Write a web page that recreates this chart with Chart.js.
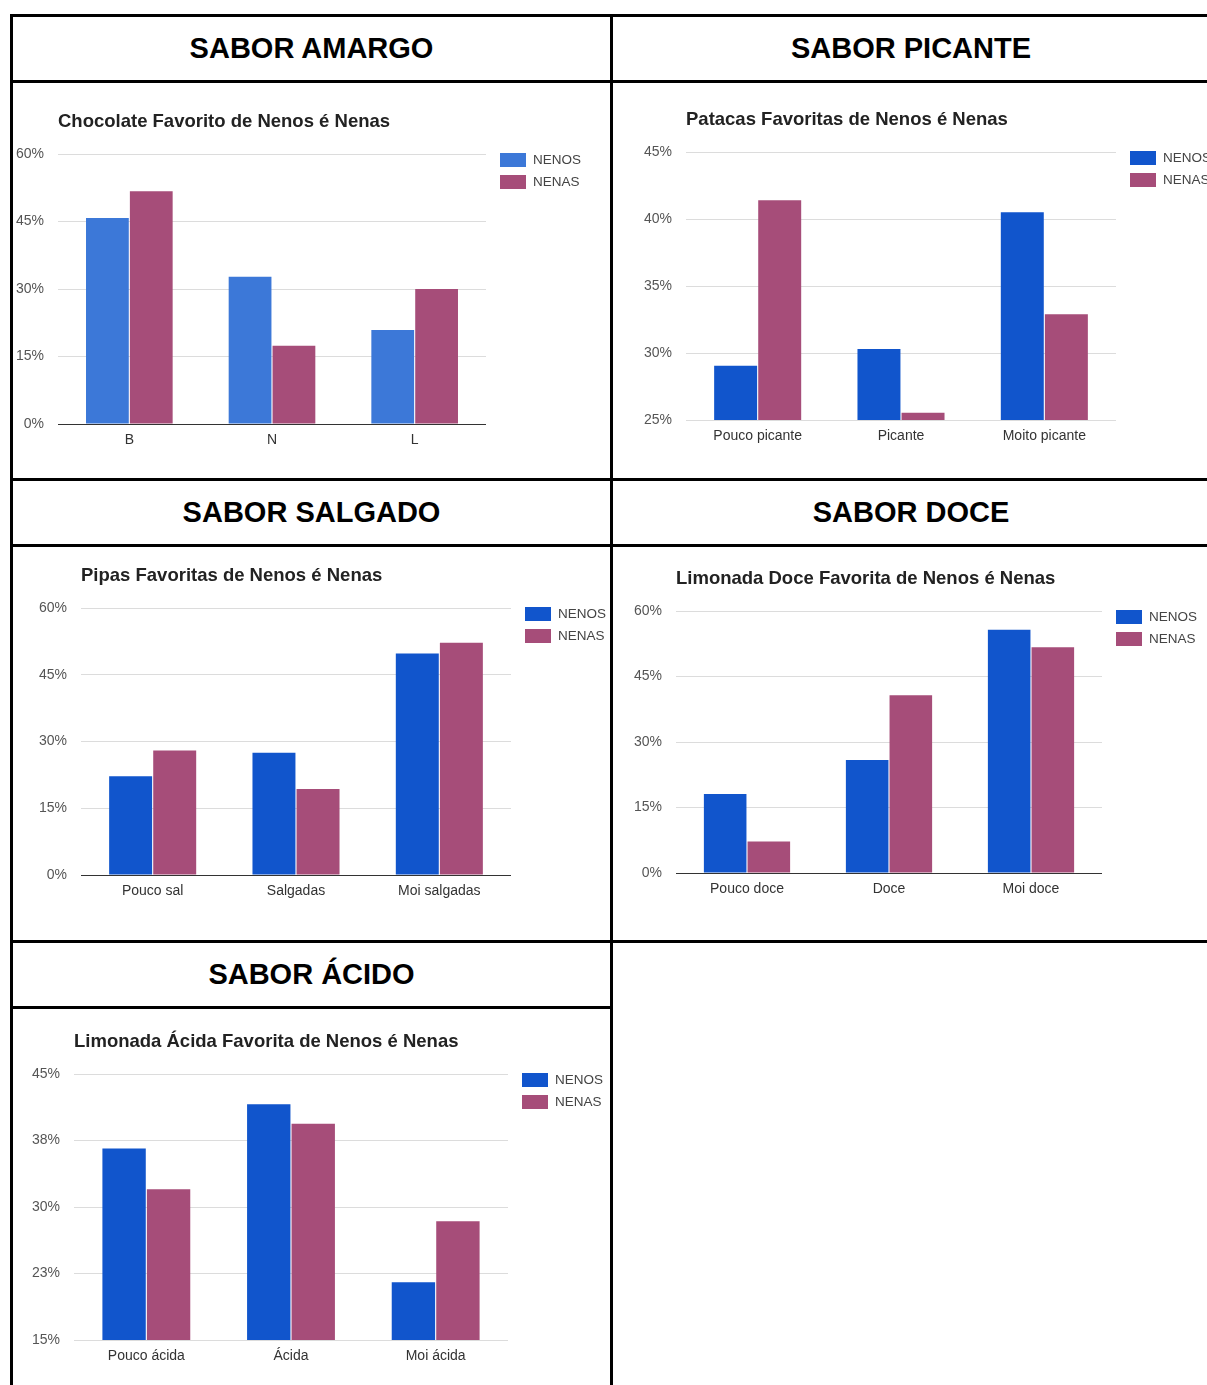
<!DOCTYPE html>
<html>
<head>
<meta charset="utf-8">
<script src="https://cdn.jsdelivr.net/npm/chart.js@4.4.0/dist/chart.umd.min.js"></script>
<style>
body{margin:0;background:#fff;width:1207px;height:1385px;overflow:hidden;position:relative;font-family:"Liberation Sans",Arial,sans-serif}
.ln{position:absolute;background:#000}
.hd{position:absolute;height:63px;line-height:63px;text-align:center;font-weight:bold;font-size:29px;color:#000}
canvas{position:absolute}
</style>
</head>
<body>
<!-- table lines -->
<div class="ln" style="left:10px;top:14px;width:1200px;height:3px"></div>
<div class="ln" style="left:10px;top:80px;width:1200px;height:3px"></div>
<div class="ln" style="left:10px;top:478px;width:1200px;height:3px"></div>
<div class="ln" style="left:10px;top:544px;width:1200px;height:3px"></div>
<div class="ln" style="left:10px;top:940px;width:1200px;height:3px"></div>
<div class="ln" style="left:10px;top:1006px;width:603px;height:3px"></div>
<div class="ln" style="left:10px;top:14px;width:3px;height:1371px"></div>
<div class="ln" style="left:610px;top:14px;width:3px;height:1371px"></div>

<div class="hd" style="left:13px;top:17px;width:597px">SABOR AMARGO</div>
<div class="hd" style="left:613px;top:17px;width:596px">SABOR PICANTE</div>
<div class="hd" style="left:13px;top:481px;width:597px">SABOR SALGADO</div>
<div class="hd" style="left:613px;top:481px;width:596px">SABOR DOCE</div>
<div class="hd" style="left:13px;top:943px;width:597px">SABOR ÁCIDO</div>

<canvas id="c1"></canvas>
<canvas id="c2"></canvas>
<canvas id="c3"></canvas>
<canvas id="c4"></canvas>
<canvas id="c5"></canvas>

<script>
// data
var seriesNames = ['NENOS', 'NENAS'];

var amargoCats = ['B', 'N', 'L'];
var amargoNenos = [45.8, 32.7, 20.9];
var amargoNenas = [51.7, 17.4, 30.0];
var amargoTicks = [0, 15, 30, 45, 60];

var picanteCats = ['Pouco picante', 'Picante', 'Moito picante'];
var picanteNenos = [29.05, 30.3, 40.5];
var picanteNenas = [41.4, 25.55, 32.9];
var picanteTicks = [25, 30, 35, 40, 45];

var salgadoCats = ['Pouco sal', 'Salgadas', 'Moi salgadas'];
var salgadoNenos = [22.2, 27.5, 49.8];
var salgadoNenas = [28.0, 19.3, 52.2];
var salgadoTicks = [0, 15, 30, 45, 60];

var doceCats = ['Pouco doce', 'Doce', 'Moi doce'];
var doceNenos = [18.1, 25.9, 55.7];
var doceNenas = [7.2, 40.7, 51.7];
var doceTicks = [0, 15, 30, 45, 60];

var acidoCats = ['Pouco ácida', 'Ácida', 'Moi ácida'];
var acidoNenos = [36.6, 41.6, 21.5];
var acidoNenas = [32.0, 39.4, 28.4];
var acidoTicks = [15, 22.5, 30, 37.5, 45];

var FONT = '"Liberation Sans", Arial, sans-serif';
var YW = 45, XH = 30;

// title + legend drawn next to the plot area
var deco = {
	id: 'deco',
	afterDraw: function(chart) {
		var ctx = chart.ctx, a = chart.chartArea;
		ctx.save();
		ctx.fillStyle = '#222';
		ctx.font = 'bold 18.5px ' + FONT;
		ctx.textAlign = 'left';
		ctx.textBaseline = 'middle';
		ctx.fillText(chart.options.plugins.deco.title, a.left, a.top - 32);
		ctx.font = '13.5px ' + FONT;
		chart.data.datasets.forEach(function(ds, i) {
			var bx = a.right + 14, by = a.top - 1 + i * 22;
			ctx.fillStyle = ds.backgroundColor;
			ctx.fillRect(bx, by, 26, 14);
			ctx.fillStyle = '#444';
			ctx.fillText(ds.label, bx + 33, by + 7.5);
		});
		ctx.restore();
	}
};

function makeChart(id, box, plot, title, cats, nenos, nenas, ticks, blue) {
	var cv = document.getElementById(id);
	cv.width = box.w; cv.height = box.h;
	cv.style.left = box.x + 'px'; cv.style.top = box.y + 'px';
	var zero = ticks[0] === 0;
	return new Chart(cv, {
		type: 'bar',
		data: {
			labels: cats,
			datasets: [
				{ label: seriesNames[0], data: nenos, backgroundColor: blue },
				{ label: seriesNames[1], data: nenas, backgroundColor: '#a64d79' }
			]
		},
		options: {
			responsive: false,
			animation: false,
			categoryPercentage: 0.615,
			barPercentage: 0.975,
			layout: {
				padding: {
					left: plot.l - box.x - YW,
					right: box.x + box.w - plot.r,
					top: plot.t - box.y,
					bottom: box.y + box.h - plot.b - XH
				}
			},
			plugins: {
				legend: { display: false },
				tooltip: { enabled: false },
				deco: { title: title }
			},
			scales: {
				x: {
					grid: { display: false, drawTicks: false },
					border: { display: false },
					ticks: { color: '#333', font: { family: FONT, size: 14 }, padding: 8, maxRotation: 0 },
					afterFit: function(s) { s.height = XH; }
				},
				y: {
					min: ticks[0],
					max: ticks[ticks.length - 1],
					border: { display: false },
					grid: {
						drawTicks: false,
						lineWidth: 1,
						color: function(c) { return (zero && c.tick && c.tick.value === 0) ? '#333' : '#dcdcdc'; }
					},
					ticks: {
						color: '#555',
						font: { family: FONT, size: 14 },
						padding: 14,
						callback: function(v) { return Math.round(v) + '%'; }
					},
					afterBuildTicks: function(s) {
						s.ticks = ticks.map(function(v) { return { value: v }; });
					},
					afterFit: function(s) { s.width = YW; }
				}
			}
		},
		plugins: [deco]
	});
}

makeChart('c1', { x: 13, y: 83, w: 597, h: 395 }, { l: 58, t: 154, r: 486, b: 424 },
	'Chocolate Favorito de Nenos é Nenas', amargoCats, amargoNenos, amargoNenas, amargoTicks, '#3c78d8');
makeChart('c2', { x: 614, y: 83, w: 593, h: 395 }, { l: 686, t: 152, r: 1116, b: 420 },
	'Patacas Favoritas de Nenos é Nenas', picanteCats, picanteNenos, picanteNenas, picanteTicks, '#1155cc');
makeChart('c3', { x: 13, y: 547, w: 597, h: 393 }, { l: 81, t: 608, r: 511, b: 875 },
	'Pipas Favoritas de Nenos é Nenas', salgadoCats, salgadoNenos, salgadoNenas, salgadoTicks, '#1155cc');
makeChart('c4', { x: 614, y: 547, w: 593, h: 393 }, { l: 676, t: 611, r: 1102, b: 873 },
	'Limonada Doce Favorita de Nenos é Nenas', doceCats, doceNenos, doceNenas, doceTicks, '#1155cc');
makeChart('c5', { x: 13, y: 1009, w: 597, h: 376 }, { l: 74, t: 1074, r: 508, b: 1340 },
	'Limonada Ácida Favorita de Nenos é Nenas', acidoCats, acidoNenos, acidoNenas, acidoTicks, '#1155cc');
</script>
</body>
</html>
